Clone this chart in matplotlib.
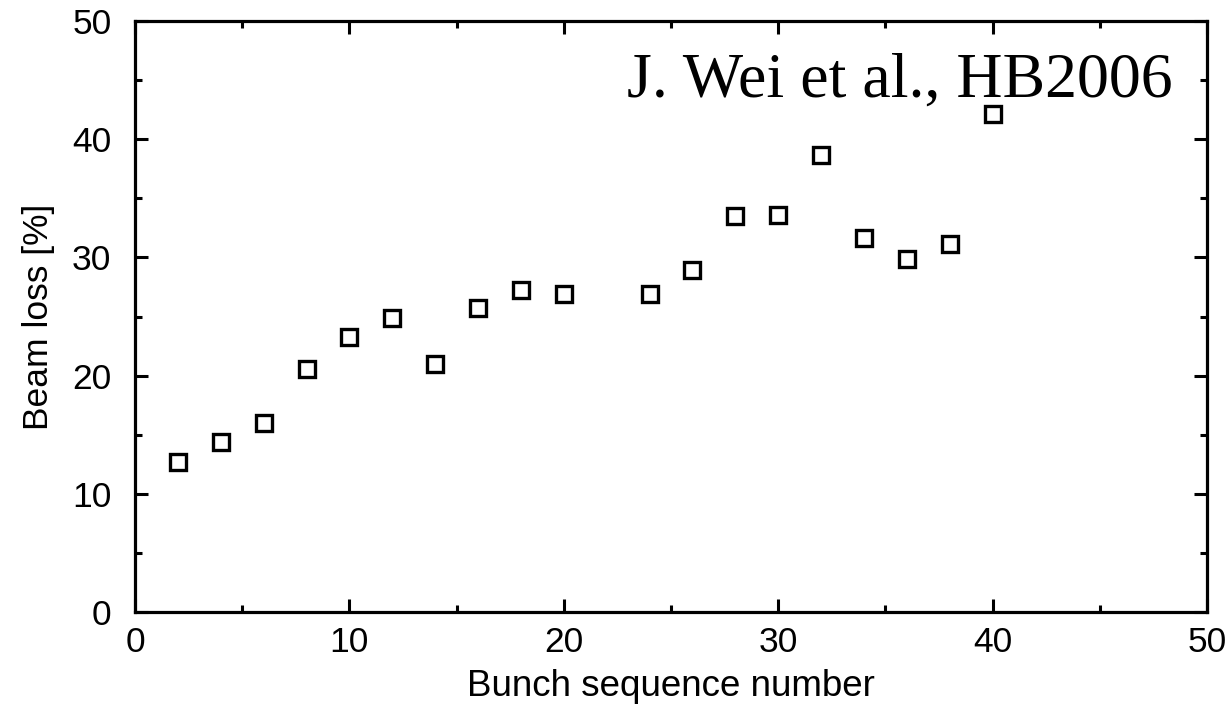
import matplotlib
matplotlib.use("Agg")
import matplotlib.pyplot as plt
from matplotlib.ticker import MultipleLocator

# Podatki odčitani s slike
bunch = [2, 4, 6, 8, 10, 12, 14, 16, 18, 20, 24, 26, 28, 30, 32, 34, 36, 38, 40]
loss = [12.7, 14.4, 16.0, 20.6, 23.3, 24.9, 21.0, 25.7, 27.2, 26.9,
        26.9, 28.9, 33.5, 33.6, 38.7, 31.6, 29.9, 31.1, 42.1]

plt.rcParams['font.family'] = ['Liberation Sans', 'DejaVu Sans']

fig = plt.figure(figsize=(12.3, 7.07), dpi=100)
W, H = 1230, 707
ax = fig.add_axes([135 / W, (H - 612) / H, (1207 - 135) / W, (612 - 21) / H])

ax.plot(bunch, loss, linestyle='none', marker='s', markersize=11.5,
        markerfacecolor='white', markeredgecolor='black', markeredgewidth=2.4)

ax.set_xlim(0, 50)
ax.set_ylim(0, 50)
ax.xaxis.set_major_locator(MultipleLocator(10))
ax.xaxis.set_minor_locator(MultipleLocator(5))
ax.yaxis.set_major_locator(MultipleLocator(10))
ax.yaxis.set_minor_locator(MultipleLocator(5))

for s in ax.spines.values():
    s.set_linewidth(2.3)
ax.tick_params(which='both', direction='in', top=True, right=True, width=2.2)
ax.tick_params(which='major', length=9.5, labelsize=25.5)
ax.tick_params(axis='y', which='major', pad=17)
ax.tick_params(axis='x', which='major', pad=10)
ax.tick_params(which='minor', length=5)

ax.set_xlabel("Bunch sequence number", fontsize=26.5, labelpad=7)
ax.set_ylabel("Beam loss [%]", fontsize=25.5, labelpad=12)

ax.text(48.4, 43.6, "J. Wei et al., HB2006", fontsize=46, ha='right',
        va='baseline', family=['Liberation Serif', 'DejaVu Serif'])

fig.savefig("out.png", dpi=100)
